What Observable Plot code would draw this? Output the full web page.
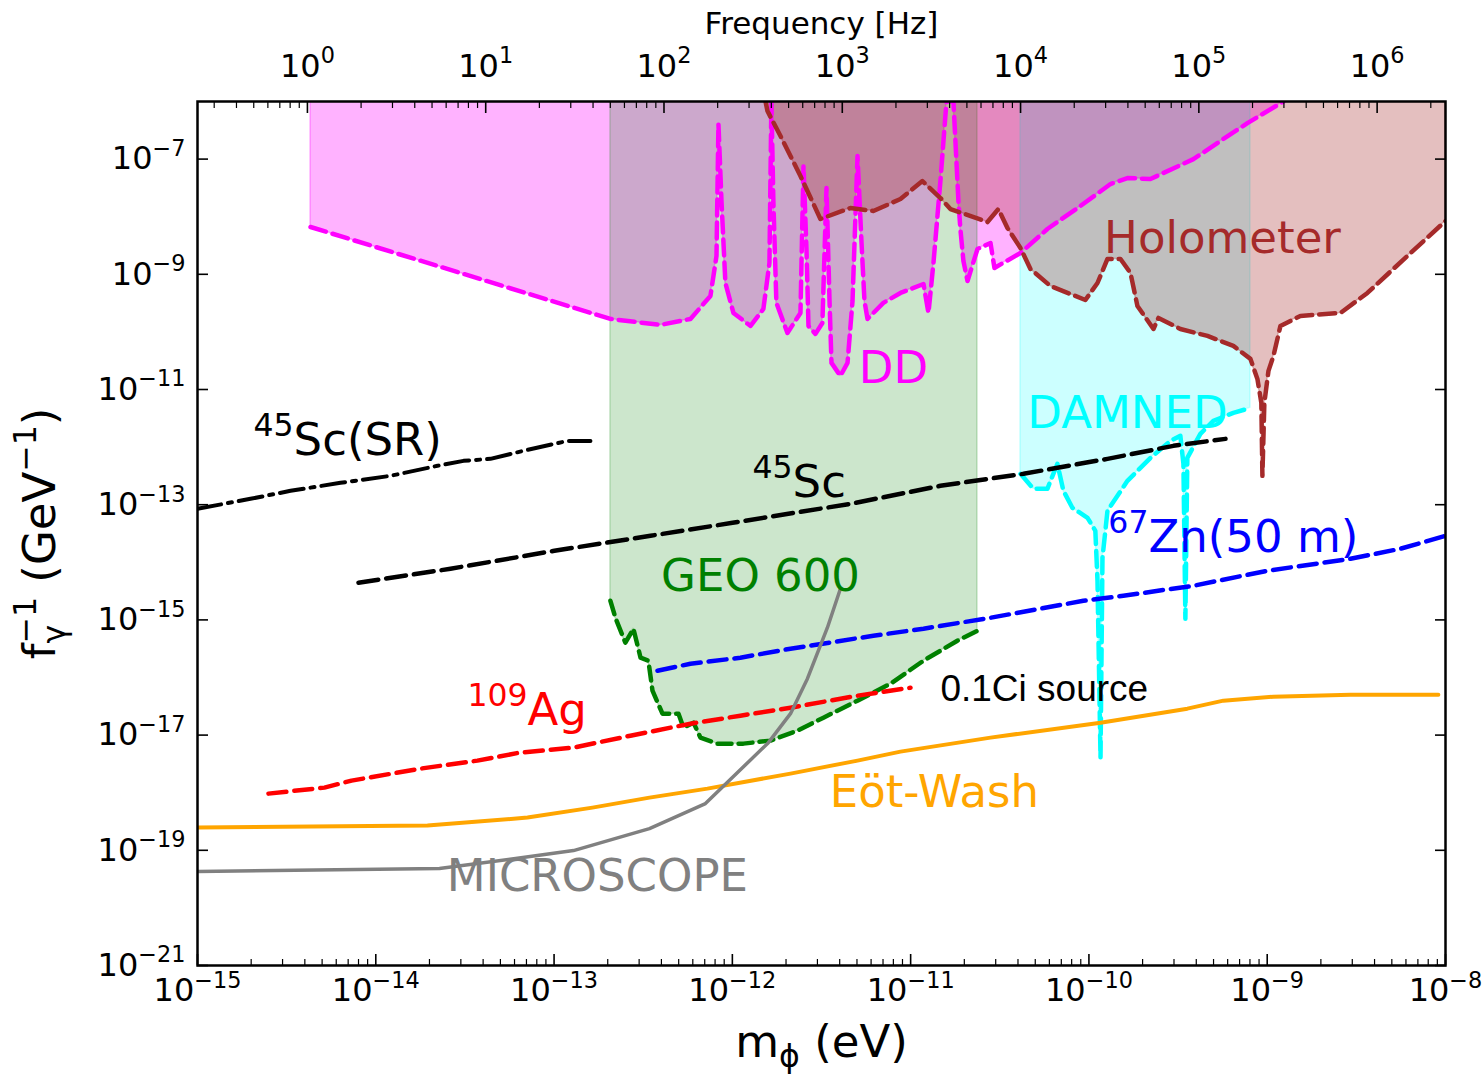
<!DOCTYPE html>
<html><head><meta charset="utf-8">
<script src="https://cdn.jsdelivr.net/npm/d3@7"></script>
<script src="https://cdn.jsdelivr.net/npm/@observablehq/plot@0.6"></script>
<style>html,body{margin:0;padding:0;background:#fff;} #chart{width:1484px;height:1076px;}</style>
</head><body><div id="chart"></div>
<script>
// Values, as [log10(m_phi / eV), log10(f_gamma^-1 / GeV^-1)]
const ddCurve = [[-14.366,-8.179],[-13.525,-8.977],[-12.684,-9.775],[-12.403,-9.879],[-12.235,-9.775],[-12.123,-9.376],[-12.089,-8.682],[-12.078,-6.392],[-12.061,-7.728],[-12.039,-9.151],[-11.994,-9.671],[-11.898,-9.897],[-11.826,-9.602],[-11.792,-8.803],[-11.781,-6.0],[-11.770,-7.728],[-11.753,-9.497],[-11.691,-10.018],[-11.618,-9.671],[-11.601,-7.121],[-11.584,-8.595],[-11.573,-9.897],[-11.534,-10.035],[-11.495,-9.845],[-11.472,-7.502],[-11.455,-9.463],[-11.444,-10.538],[-11.394,-10.764],[-11.354,-10.538],[-11.326,-9.463],[-11.298,-6.947],[-11.276,-8.422],[-11.259,-9.463],[-11.242,-9.775],[-11.153,-9.497],[-11.057,-9.324],[-10.928,-9.168],[-10.900,-9.671],[-10.872,-8.803],[-10.833,-7.381],[-10.799,-6.0],[-10.760,-6.0],[-10.732,-7.728],[-10.721,-8.214],[-10.704,-8.769],[-10.681,-9.116],[-10.625,-8.561],[-10.552,-8.457],[-10.530,-8.890],[-10.384,-8.630],[-10.233,-8.214],[-10.048,-7.815],[-9.879,-7.433],[-9.784,-7.329],[-9.655,-7.346],[-9.414,-7.0],[-9.246,-6.652],[-9.111,-6.375],[-8.909,-6.0]];
const geoCurve = [[-12.684,-14.668],[-12.656,-14.963],[-12.600,-15.396],[-12.555,-15.153],[-12.515,-15.656],[-12.471,-15.708],[-12.448,-16.229],[-12.392,-16.628],[-12.302,-16.628],[-12.274,-16.871],[-12.218,-16.784],[-12.179,-17.044],[-12.084,-17.148],[-11.938,-17.148],[-11.786,-17.096],[-11.635,-16.923],[-11.489,-16.697],[-11.298,-16.402],[-11.113,-16.108],[-10.928,-15.708],[-10.738,-15.362],[-10.625,-15.188]];
const holoCurve = [[-11.814,-6.0],[-11.803,-6.166],[-11.730,-6.600],[-11.618,-7.294],[-11.506,-8.040],[-11.338,-7.849],[-11.209,-7.901],[-11.057,-7.693],[-10.934,-7.381],[-10.833,-7.676],[-10.777,-7.867],[-10.569,-8.092],[-10.508,-7.867],[-10.457,-8.196],[-10.384,-8.543],[-10.328,-8.908],[-10.216,-9.203],[-10.020,-9.446],[-9.952,-9.151],[-9.896,-8.734],[-9.823,-8.734],[-9.767,-8.977],[-9.728,-9.550],[-9.638,-9.949],[-9.610,-9.758],[-9.487,-9.949],[-9.335,-10.070],[-9.190,-10.243],[-9.094,-10.469],[-9.055,-10.816],[-9.033,-11.232],[-9.027,-12.499],[-9.016,-11.232],[-8.993,-10.677],[-8.965,-10.417],[-8.926,-9.897],[-8.814,-9.723],[-8.589,-9.671],[-8.438,-9.324],[-8.214,-8.682],[-8.0,-8.075]];
const damnedCurve = [[-10.384,-12.464],[-10.311,-12.724],[-10.233,-12.724],[-10.177,-12.291],[-10.143,-12.759],[-10.093,-13.054],[-10.008,-13.228],[-9.964,-13.453],[-9.952,-14.321],[-9.935,-17.391],[-9.924,-13.922],[-9.896,-13.106],[-9.784,-12.586],[-9.655,-12.187],[-9.543,-11.892],[-9.487,-11.805],[-9.470,-12.291],[-9.459,-14.980],[-9.448,-12.187],[-9.375,-11.770],[-9.302,-11.545],[-9.190,-11.406],[-9.094,-11.319]];
const sc45SRLine = [[-15,-13.071],[-14.703,-12.898],[-14.478,-12.759],[-14.198,-12.620],[-13.918,-12.499],[-13.654,-12.325],[-13.508,-12.239],[-13.357,-12.204],[-13.172,-12.065],[-12.925,-11.892],[-12.796,-11.892]];
const sc45Line = [[-14.097,-14.355],[-13.581,-14.112],[-12.998,-13.800],[-12.459,-13.540],[-11.999,-13.314],[-11.338,-12.985],[-10.833,-12.672],[-10.367,-12.464],[-9.896,-12.204],[-9.526,-11.978],[-9.234,-11.857]];
const zn67Line = [[-12.420,-15.882],[-12.235,-15.761],[-11.955,-15.656],[-11.674,-15.500],[-11.209,-15.275],[-10.928,-15.153],[-10.552,-14.963],[-10.031,-14.668],[-9.807,-14.581],[-9.414,-14.407],[-8.999,-14.147],[-8.533,-13.939],[-8.253,-13.765],[-8.0,-13.540]];
const ag109Line = [[-14.602,-18.016],[-14.288,-17.912],[-14.136,-17.790],[-13.749,-17.582],[-13.430,-17.443],[-13.194,-17.305],[-12.891,-17.218],[-12.572,-17.010],[-12.235,-16.802],[-11.955,-16.663],[-11.674,-16.524],[-11.298,-16.316],[-11.001,-16.177]];
const eotWashLine = [[-15,-18.606],[-13.710,-18.571],[-13.149,-18.432],[-12.785,-18.259],[-12.465,-18.085],[-12.140,-17.929],[-11.674,-17.669],[-11.298,-17.443],[-11.057,-17.287],[-10.552,-17.044],[-9.935,-16.784],[-9.448,-16.541],[-9.246,-16.402],[-8.965,-16.333],[-8.533,-16.298],[-8.040,-16.298]];
const microscopeLine = [[-15,-19.369],[-13.643,-19.317],[-13.216,-19.144],[-12.891,-19.005],[-12.465,-18.623],[-12.151,-18.189],[-11.798,-17.131],[-11.674,-16.628],[-11.579,-16.021],[-11.467,-15.136],[-11.394,-14.459]];

// Tick labels (exponents)
const massTickExp = [-15,-14,-13,-12,-11,-10,-9,-8];
const couplingTickExp = [-21,-19,-17,-15,-13,-11,-9,-7];
const freqTickExp = [0,1,2,3,4,5,6];
const H_EV_S = 4.135667696e-15; // Planck constant, eV*s : f = m / h

// Annotation texts
const annotations = [
  {t: "DD", m: -11.096, f: -10.643, c: "#ff00ff", a: "middle"},
  {t: "Holometer", m: -9.251, f: -8.387, c: "#a52a2a", a: "middle"},
  {t: "DAMNED", m: -9.784, f: -11.423, c: "#00ffff", a: "middle"},
  {t: "^{45}Sc(SR)", m: -14.686, f: -11.892, c: "#000000", a: "start"},
  {t: "^{45}Sc", m: -11.887, f: -12.620, c: "#000000", a: "start"},
  {t: "^{67}Zn(50 m)", m: -9.891, f: -13.575, c: "#0000ff", a: "start"},
  {t: "GEO 600", m: -11.842, f: -14.251, c: "#008000", a: "middle"},
  {t: "^{109}Ag", m: -13.486, f: -16.576, c: "#ff0000", a: "start"},
  {t: "Eöt-Wash", m: -10.867, f: -17.999, c: "#ffa500", a: "middle"},
  {t: "MICROSCOPE", m: -12.757, f: -19.456, c: "#808080", a: "middle"}
];
const sourceNote = {t: "0.1Ci source", m: -10.833, f: -16.194};

const pts = arr => arr.map(([lm, lf]) => ({m: 10 ** lm, f: 10 ** lf}));
const TOP = 1e-6;
const minus = e => String(e).replace("-", "\u2212");
const massMajors = massTickExp.map(e => 10 ** e);
const massMinors = massTickExp.slice(0, -1).flatMap(e => [2,3,4,5,6,7,8,9].map(k => k * 10 ** e));
const yMajors = couplingTickExp.map(e => 10 ** e);
const freqMajors = freqTickExp.map(e => ({m: 10 ** e * H_EV_S, e}));
const freqMinors = [-1, ...freqTickExp].flatMap(e => [2,3,4,5,6,7,8,9].map(k => k * 10 ** e * H_EV_S)).filter(m => m >= 1e-15 && m <= 1e-8);

function fill(data, color, op) {
  return Plot.areaY(pts(data), {x: "m", y1: "f", y2: () => TOP, fill: color, fillOpacity: op, stroke: color, strokeOpacity: op, strokeWidth: 1.5, clip: true});
}
function curve(data, color, dash, width) {
  return Plot.line(pts(data), {x: "m", y: "f", stroke: color, strokeWidth: width, strokeDasharray: dash, clip: true});
}

const chart = Plot.plot({
  width: 1484, height: 1076,
  marginLeft: 197, marginRight: 39, marginTop: 101, marginBottom: 111,
  style: {fontFamily: "'DejaVu Sans', sans-serif", background: "white", color: "black"},
  x: {type: "log", domain: [1e-15, 1e-8], label: null},
  y: {type: "log", domain: [1e-21, 1e-6], label: null},
  marks: [
    fill(ddCurve, "#ff00ff", 0.3),
    fill(geoCurve, "#008000", 0.2),
    fill(damnedCurve, "#00ffff", 0.2),
    fill(holoCurve, "#a52a2a", 0.3),
    curve(ddCurve, "#ff00ff", "16,7", 4.5),
    curve(geoCurve, "#008000", "14,7", 4.5),
    curve(damnedCurve, "#00ffff", "16,7", 4.5),
    curve(holoCurve, "#a52a2a", "16,7", 4.5),
    curve(sc45SRLine, "#000000", "24,7,4,7", 4),
    curve(sc45Line, "#000000", "20,8", 4.5),
    curve(zn67Line, "#0000ff", "18,8", 4.5),
    curve(ag109Line, "#ff0000", "18,8", 4.5),
    curve(eotWashLine, "#ffa500", null, 4),
    curve(microscopeLine, "#808080", null, 3.5),
    ...annotations.map(a => Plot.text([a], {x: d => 10 ** d.m, y: d => 10 ** d.f, text: "t", fill: a.c, fontSize: 45, textAnchor: a.a, lineAnchor: "middle"})),
    Plot.text([sourceNote], {x: d => 10 ** d.m, y: d => 10 ** d.f, text: "t", fill: "black", fontSize: 37, fontFamily: "'Liberation Sans', Arial, sans-serif", textAnchor: "start", lineAnchor: "middle"}),
    // axes
    Plot.axisX(massMajors, {anchor: "bottom", tickSize: -11, strokeWidth: 1.6, tickFormat: () => "", label: null}),
    Plot.axisX(massMinors, {anchor: "bottom", tickSize: -6, strokeWidth: 1.2, tickFormat: () => "", label: null}),
    Plot.axisX(massMajors, {anchor: "bottom", tickSize: 0, tickPadding: 13, fontSize: 32, tickFormat: d => `10^{${minus(Math.round(Math.log10(d)))}}`, label: null}),
    Plot.axisX(freqMajors.map(d => d.m), {anchor: "top", tickSize: -11, strokeWidth: 1.6, tickFormat: () => "", label: null}),
    Plot.axisX(freqMinors, {anchor: "top", tickSize: -6, strokeWidth: 1.2, tickFormat: () => "", label: null}),
    Plot.text(freqMajors, {x: "m", frameAnchor: "top", dy: -35, fontSize: 32, lineAnchor: "middle", textAnchor: "middle", text: d => `10^{${minus(d.e)}}`}),
    Plot.axisY(yMajors, {anchor: "left", tickSize: -11, strokeWidth: 1.6, tickFormat: () => "", label: null}),
    Plot.axisY(yMajors, {anchor: "right", tickSize: -11, strokeWidth: 1.6, tickFormat: () => "", label: null}),
    Plot.axisY(yMajors, {anchor: "left", tickSize: 0, tickPadding: 12, fontSize: 32, tickFormat: d => `10^{${minus(Math.round(Math.log10(d)))}}`, label: null}),
    Plot.frame({stroke: "black", strokeWidth: 2.5}),
    Plot.text(["Frequency [Hz]"], {frameAnchor: "top", dy: -77, text: d => d, fontSize: 31, lineAnchor: "middle", textAnchor: "middle"}),
    Plot.text(["m_{\u03d5} (eV)"], {frameAnchor: "bottom", dy: 77, text: d => d, fontSize: 45, lineAnchor: "middle", textAnchor: "middle"}),
    Plot.text(["f_{\u03b3}^{\u22121} (GeV^{\u22121})"], {frameAnchor: "left", dx: -157, rotate: -90, text: d => d, fontSize: 45, lineAnchor: "middle", textAnchor: "middle"})
  ]
});
document.getElementById("chart").append(chart);

// mathtext-like superscripts / subscripts
function richify(svg) {
  const SUP = 0.42, SUB = -0.22, SCALE = 0.7, NS = "http://www.w3.org/2000/svg";
  for (const t of svg.querySelectorAll("text")) {
    const s = t.textContent;
    if (!/[\^_]\{/.test(s)) continue;
    const re = /([\^_])\{([^}]*)\}/g;
    const parts = []; let last = 0, m;
    while ((m = re.exec(s))) {
      if (m.index > last) parts.push(["n", s.slice(last, m.index)]);
      parts.push([m[1] === "^" ? "sup" : "sub", m[2]]);
      last = re.lastIndex;
    }
    if (last < s.length) parts.push(["n", s.slice(last)]);
    t.textContent = "";
    let cur = 0, prev = null, prevEl = null;
    for (const [kind, str] of parts) {
      const el = document.createElementNS(NS, "tspan");
      const target = kind === "sup" ? SUP : kind === "sub" ? SUB : 0;
      const scale = kind === "n" ? 1 : SCALE;
      if (kind !== "n") el.setAttribute("font-size", `${SCALE * 100}%`);
      const dyParent = cur - target;
      if (dyParent !== 0) el.setAttribute("dy", `${(dyParent / scale).toFixed(3)}em`);
      el.textContent = str;
      t.appendChild(el);
      if (kind === "sup" && prev === "sub") el.setAttribute("dx", `${-prevEl.getComputedTextLength()}`);
      cur = target; prev = kind; prevEl = el;
    }
  }
}
richify(chart);
</script></body></html>
